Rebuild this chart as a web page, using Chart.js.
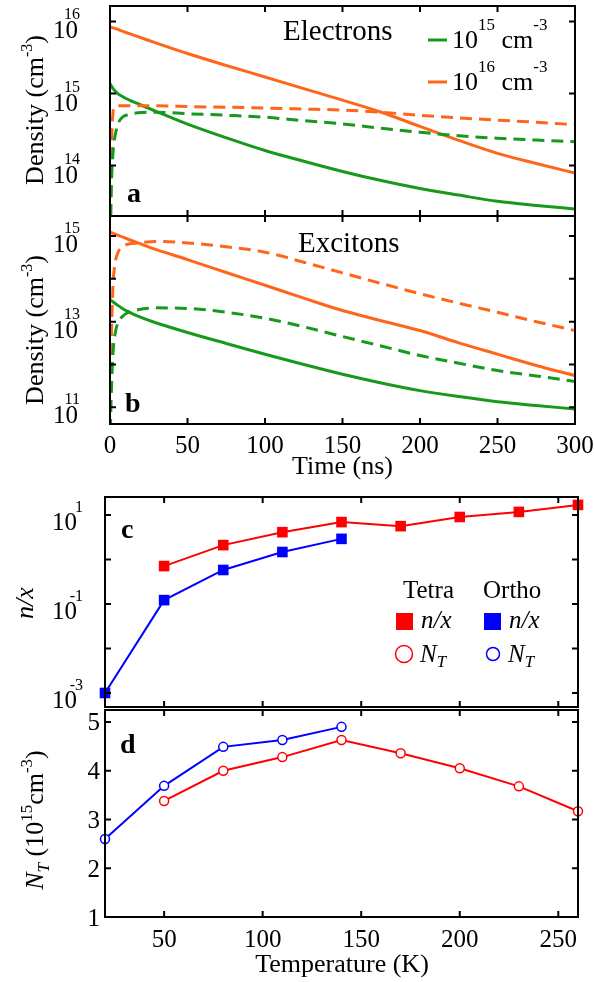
<!DOCTYPE html>
<html>
<head>
<meta charset="utf-8">
<script src="https://cdn.jsdelivr.net/npm/chart.js@4/dist/chart.umd.min.js"></script>
<style>
  html, body { margin: 0; padding: 0; background: #fff; }
  #wrap { position: relative; width: 594px; height: 982px; overflow: hidden; background: #fff; }
  #wrap canvas { position: absolute; left: 0; }
</style>
</head>
<body>
<div id="wrap">
  <canvas id="panelA" width="594" height="225" style="top:0px;width:594px;height:225px"></canvas>
  <canvas id="panelB" width="594" height="282" style="top:200px;width:594px;height:282px"></canvas>
  <canvas id="panelC" width="594" height="250" style="top:470px;width:594px;height:250px"></canvas>
  <canvas id="panelD" width="594" height="292" style="top:690px;width:594px;height:292px"></canvas>
</div>
<script>
// ---- time-resolved densities (cm^-3) ----
const timeNs = [0, 0.5, 1, 2, 3, 5, 8, 12, 18, 30, 50, 75, 100, 125, 150, 175, 200, 225, 250, 275, 300];

// electrons, 1e16 cm^-3 excitation
const elec16Solid  = [8.4e15, 8.36e15, 8.28e15, 8.15e15, 8.04e15, 7.76e15, 7.33e15, 6.84e15, 6.17e15, 5.01e15, 3.59e15, 2.45e15, 1.70e15, 1.17e15, 8.1e14, 5.5e14, 3.5e14, 2.24e14, 1.48e14, 1.07e14, 7.9e13];
const elec16Dashed = [3.2e12, 4.0e13, 2.0e14, 5.6e14, 6.6e14, 6.76e14, 6.76e14, 6.76e14, 6.76e14, 6.76e14, 6.6e14, 6.46e14, 6.3e14, 6.1e14, 5.9e14, 5.5e14, 5.0e14, 4.6e14, 4.27e14, 4.0e14, 3.7e14];
// electrons, 1e15 cm^-3 excitation
const elec15Solid  = [1.38e15, 1.32e15, 1.26e15, 1.17e15, 1.10e15, 1.0e15, 9.1e14, 8.2e14, 7.24e14, 5.62e14, 3.76e14, 2.43e14, 1.62e14, 1.15e14, 8.3e13, 6.2e13, 4.8e13, 3.9e13, 3.2e13, 2.8e13, 2.5e13];
const elec15Dashed = [3.2e12, 2.0e13, 6.3e13, 1.58e14, 2.4e14, 3.7e14, 4.7e14, 5.1e14, 5.4e14, 5.5e14, 5.25e14, 5.0e14, 4.7e14, 4.2e14, 3.8e14, 3.3e14, 2.9e14, 2.6e14, 2.4e14, 2.26e14, 2.14e14];

// excitons, 1e16 cm^-3 excitation
const exc16Solid  = [1.24e15, 1.22e15, 1.20e15, 1.16e15, 1.12e15, 1.05e15, 9.55e14, 8.3e14, 6.9e14, 4.8e14, 2.82e14, 1.41e14, 7.1e13, 3.55e13, 1.82e13, 1.05e13, 6.2e12, 3.2e12, 1.74e12, 9.5e11, 5.5e11];
const exc16Dashed = [1.0e10, 6.3e11, 6.3e12, 7.9e13, 2.0e14, 4.0e14, 5.6e14, 6.5e14, 6.9e14, 7.5e14, 6.9e14, 5.6e14, 4.2e14, 2.45e14, 1.38e14, 7.8e13, 4.5e13, 2.7e13, 1.66e13, 1.0e13, 6.2e12];
// excitons, 1e15 cm^-3 excitation
const exc15Solid  = [3.31e13, 3.2e13, 3.09e13, 2.88e13, 2.72e13, 2.4e13, 2.04e13, 1.70e13, 1.35e13, 9.3e12, 5.6e12, 3.1e12, 1.74e12, 1.0e12, 5.9e11, 3.7e11, 2.45e11, 1.78e11, 1.35e11, 1.1e11, 9.1e10];
const exc15Dashed = [1.0e10, 7.9e10, 3.2e11, 2.0e12, 4.5e12, 9.3e12, 1.32e13, 1.66e13, 1.9e13, 2.1e13, 2.04e13, 1.66e13, 1.2e13, 7.6e12, 4.5e12, 2.7e12, 1.62e12, 1.07e12, 7.2e11, 5.4e11, 4.0e11];

// ---- temperature dependence ----
const tetraT  = [50, 80, 110, 140, 170, 200, 230, 260];
const tetraNx = [0.71, 2.1, 4.1, 6.9, 5.6, 9.0, 11.7, 16.8];
const tetraNT = [3.38, 4.0, 4.28, 4.63, 4.36, 4.05, 3.68, 3.17];
const orthoT  = [20, 50, 80, 110, 140];
const orthoNx = [0.001, 0.122, 0.58, 1.47, 2.9];
const orthoNT = [2.60, 3.69, 4.49, 4.63, 4.90];

// ---- ticks ----
const timeTicks   = [0, 50, 100, 150, 200, 250, 300];
const densTicksA  = [1e14, 1e15, 1e16];
const densLabelsA = [1e14, 1e15, 1e16];
const densTicksB  = [1e11, 1e12, 1e13, 1e14, 1e15];
const densLabelsB = [1e11, 1e13, 1e15];
const nxTicks     = [1e-3, 1e-2, 1e-1, 1, 10];
const nxLabels    = [1e-3, 1e-1, 10];
const ntTicks     = [1, 2, 3, 4, 5];
const tempTicks   = [50, 100, 150, 200, 250];

const ORANGE = '#FF661A', GREEN = '#17991B', RED = '#FF0000', BLUE = '#0000FF';
const SERIF = '"Liberation Serif", "Times New Roman", serif';
const fnt = (size, style) => (style ? style + ' ' : '') + size + 'px ' + SERIF;

const pts = (xs, ys) => xs.map((x, i) => ({ x: x, y: ys[i] }));

// ---- drawing helpers ----
function rich(ctx, segs, x, y, align) {
  let w = 0;
  const ws = segs.map(s => { ctx.font = fnt(s.s, s.st); const m = ctx.measureText(s.t).width; w += m; return m; });
  let cx = align === 'center' ? x - w / 2 : (align === 'right' ? x - w : x);
  ctx.textAlign = 'left';
  ctx.textBaseline = 'alphabetic';
  segs.forEach((s, i) => { ctx.font = fnt(s.s, s.st); ctx.fillText(s.t, cx, y - (s.r || 0)); cx += ws[i]; });
}

function vtitle(ctx, segs, bx, cy) {
  ctx.save();
  ctx.translate(bx, cy);
  ctx.rotate(-Math.PI / 2);
  rich(ctx, segs, 0, 0, 'center');
  ctx.restore();
}

function frame(chart, xt, yt) {
  const { ctx, chartArea: a, scales } = chart;
  ctx.save();
  ctx.strokeStyle = '#000';
  ctx.lineWidth = 2;
  ctx.beginPath();
  xt.forEach(v => {
    const p = scales.x.getPixelForValue(v);
    ctx.moveTo(p, a.bottom); ctx.lineTo(p, a.bottom - 6);
    ctx.moveTo(p, a.top); ctx.lineTo(p, a.top + 6);
  });
  yt.forEach(v => {
    const p = scales.y.getPixelForValue(v);
    ctx.moveTo(a.left, p); ctx.lineTo(a.left + 6, p);
    ctx.moveTo(a.right, p); ctx.lineTo(a.right - 6, p);
  });
  ctx.stroke();
  ctx.strokeRect(a.left, a.top, a.right - a.left, a.bottom - a.top);
  ctx.restore();
}

function powLabels(chart, vals, r10, rSup, dy10, dySup) {
  const ctx = chart.ctx;
  ctx.save();
  ctx.fillStyle = '#000';
  ctx.textAlign = 'right';
  ctx.textBaseline = 'alphabetic';
  vals.forEach(v => {
    const p = chart.scales.y.getPixelForValue(v);
    const e = Math.round(Math.log10(v));
    ctx.font = fnt(25); ctx.fillText('10', r10, p + dy10);
    ctx.font = fnt(16); ctx.fillText(String(e), rSup, p + dySup);
  });
  ctx.restore();
}

function xLabels(chart, vals, baseline) {
  const ctx = chart.ctx;
  ctx.save();
  ctx.fillStyle = '#000';
  ctx.font = fnt(25);
  ctx.textAlign = 'center';
  ctx.textBaseline = 'alphabetic';
  vals.forEach(v => ctx.fillText(String(v), chart.scales.x.getPixelForValue(v), baseline));
  ctx.restore();
}

function letter(ctx, t, x, y) {
  ctx.font = fnt(28, 'bold');
  ctx.textAlign = 'left';
  ctx.textBaseline = 'alphabetic';
  ctx.fillText(t, x, y);
}

const densTitle = [{ t: 'Density (cm', s: 26 }, { t: '-3', s: 16, r: 11 }, { t: ')', s: 26 }];

function makeChart(id, datasets, xs, ys, pad, deco) {
  return new Chart(document.getElementById(id), {
    type: 'line',
    data: { datasets: datasets },
    options: {
      responsive: false,
      animation: false,
      events: [],
      layout: { padding: pad },
      plugins: { legend: { display: false }, tooltip: { enabled: false }, title: { display: false } },
      scales: {
        x: Object.assign({ grid: { display: false }, border: { display: false }, ticks: { display: false }, afterFit(s) { s.height = 0; } }, xs),
        y: Object.assign({ grid: { display: false }, border: { display: false }, ticks: { display: false }, afterFit(s) { s.width = 0; } }, ys)
      }
    },
    plugins: [{ id: 'deco_' + id, afterDraw: deco }]
  });
}

function curve(data, color, dashed) {
  return {
    data: pts(timeNs, data),
    borderColor: color,
    borderWidth: 3,
    borderDash: dashed ? [12, 7] : [],
    pointRadius: 0,
    fill: false,
    cubicInterpolationMode: 'monotone'
  };
}

function markers(xs, ys, color, style) {
  const sq = style === 'rect';
  return {
    data: pts(xs, ys),
    borderColor: color,
    borderWidth: 2,
    pointStyle: style,
    pointRadius: sq ? 7.5 : 4.5,
    pointBorderWidth: sq ? 0 : 1.5,
    pointBorderColor: color,
    pointBackgroundColor: sq ? color : '#fff',
    fill: false,
    tension: 0,
    clip: false
  };
}

// ---- panel a: electrons ----
makeChart('panelA',
  [curve(elec15Dashed, GREEN, true), curve(elec16Dashed, ORANGE, true),
   curve(elec15Solid, GREEN, false), curve(elec16Solid, ORANGE, false)],
  { type: 'linear', min: 0, max: 300 },
  { type: 'logarithmic', min: 2.0e13, max: 1.64e16 },
  { left: 110, right: 19, top: 6, bottom: 9 },
  function (chart) {
    const ctx = chart.ctx;
    frame(chart, timeTicks, densTicksA);
    powLabels(chart, densLabelsA, 78, 80, 17, -2);
    ctx.save();
    ctx.fillStyle = '#000';
    vtitle(ctx, densTitle, 43, 110);
    ctx.font = fnt(29); ctx.textAlign = 'left'; ctx.fillText('Electrons', 283, 40);
    letter(ctx, 'a', 127, 202);
    ctx.lineWidth = 3;
    ctx.strokeStyle = GREEN; ctx.beginPath(); ctx.moveTo(428, 40); ctx.lineTo(447, 40); ctx.stroke();
    ctx.strokeStyle = ORANGE; ctx.beginPath(); ctx.moveTo(428, 82); ctx.lineTo(447, 82); ctx.stroke();
    ctx.fillStyle = '#000';
    rich(ctx, [{ t: '10', s: 26 }, { t: '15', s: 17, r: 18 }, { t: ' cm', s: 26 }, { t: '-3', s: 17, r: 18 }], 452, 48, 'left');
    rich(ctx, [{ t: '10', s: 26 }, { t: '16', s: 17, r: 18 }, { t: ' cm', s: 26 }, { t: '-3', s: 17, r: 18 }], 452, 90, 'left');
    ctx.restore();
  });

// ---- panel b: excitons ----
makeChart('panelB',
  [curve(exc15Dashed, GREEN, true), curve(exc16Dashed, ORANGE, true),
   curve(exc15Solid, GREEN, false), curve(exc16Solid, ORANGE, false)],
  { type: 'linear', min: 0, max: 300 },
  { type: 'logarithmic', min: 4.07e10, max: 2.94e15 },
  { left: 110, right: 19, top: 16, bottom: 58 },
  function (chart) {
    const ctx = chart.ctx;
    frame(chart, timeTicks, densTicksB);
    powLabels(chart, densLabelsB, 78, 80, 16, -3);
    xLabels(chart, timeTicks, 253);
    ctx.save();
    ctx.translate(0, -200);
    ctx.fillStyle = '#000';
    vtitle(ctx, densTitle, 43, 330);
    ctx.font = fnt(29); ctx.textAlign = 'left'; ctx.fillText('Excitons', 298, 252);
    letter(ctx, 'b', 125, 412);
    rich(ctx, [{ t: 'Time (ns)', s: 26 }], 342.5, 474, 'center');
    ctx.restore();
  });

// ---- panel c: n/x ratio ----
makeChart('panelC',
  [markers(tetraT, tetraNx, RED, 'rect'), markers(orthoT, orthoNx, BLUE, 'rect')],
  { type: 'linear', min: 20, max: 260 },
  { type: 'logarithmic', min: 4.84e-4, max: 25.3 },
  { left: 105, right: 16, top: 27, bottom: 13 },
  function (chart) {
    const ctx = chart.ctx;
    frame(chart, tempTicks, nxTicks);
    powLabels(chart, nxLabels, 77, 83, 15, -3);
    ctx.save();
    ctx.translate(0, -470);
    ctx.fillStyle = '#000';
    vtitle(ctx, [{ t: 'n/x', s: 26, st: 'italic' }], 33, 603);
    letter(ctx, 'c', 121, 538);
    ctx.font = fnt(25); ctx.textAlign = 'left';
    ctx.fillText('Tetra', 403, 598);
    ctx.fillText('Ortho', 483, 598);
    ctx.fillStyle = RED; ctx.fillRect(396, 613, 17, 17);
    ctx.fillStyle = BLUE; ctx.fillRect(484, 613, 17, 17);
    ctx.lineWidth = 1.5;
    ctx.strokeStyle = RED; ctx.beginPath(); ctx.arc(404, 654, 8.5, 0, Math.PI * 2); ctx.stroke();
    ctx.strokeStyle = BLUE; ctx.beginPath(); ctx.arc(493, 654, 6.5, 0, Math.PI * 2); ctx.stroke();
    ctx.fillStyle = '#000';
    rich(ctx, [{ t: 'n/x', s: 25, st: 'italic' }], 421, 628, 'left');
    rich(ctx, [{ t: 'n/x', s: 25, st: 'italic' }], 509, 628, 'left');
    rich(ctx, [{ t: 'N', s: 25, st: 'italic' }, { t: 'T', s: 17, st: 'italic', r: -5 }], 420, 662, 'left');
    rich(ctx, [{ t: 'N', s: 25, st: 'italic' }, { t: 'T', s: 17, st: 'italic', r: -5 }], 508, 662, 'left');
    ctx.restore();
  });

// ---- panel d: N_T ----
makeChart('panelD',
  [markers(tetraT, tetraNT, RED, 'circle'), markers(orthoT, orthoNT, BLUE, 'circle')],
  { type: 'linear', min: 20, max: 260 },
  { type: 'linear', min: 1, max: 5.246 },
  { left: 105, right: 16, top: 20, bottom: 65 },
  function (chart) {
    const ctx = chart.ctx;
    frame(chart, tempTicks, ntTicks);
    xLabels(chart, tempTicks, 257);
    ctx.save();
    ctx.fillStyle = '#000';
    ctx.font = fnt(25); ctx.textAlign = 'right'; ctx.textBaseline = 'alphabetic';
    ntTicks.forEach(v => ctx.fillText(String(v), 100, chart.scales.y.getPixelForValue(v) + 8.5));
    ctx.translate(0, -690);
    vtitle(ctx, [{ t: 'N', s: 26, st: 'italic' }, { t: 'T', s: 17, st: 'italic', r: -6 }, { t: ' (10', s: 26 },
                 { t: '15', s: 17, r: 11 }, { t: 'cm', s: 26 }, { t: '-3', s: 17, r: 11 }, { t: ')', s: 26 }], 43, 820);
    letter(ctx, 'd', 120, 753);
    rich(ctx, [{ t: 'Temperature (K)', s: 26 }], 342, 972, 'center');
    ctx.restore();
  });
</script>
</body>
</html>
